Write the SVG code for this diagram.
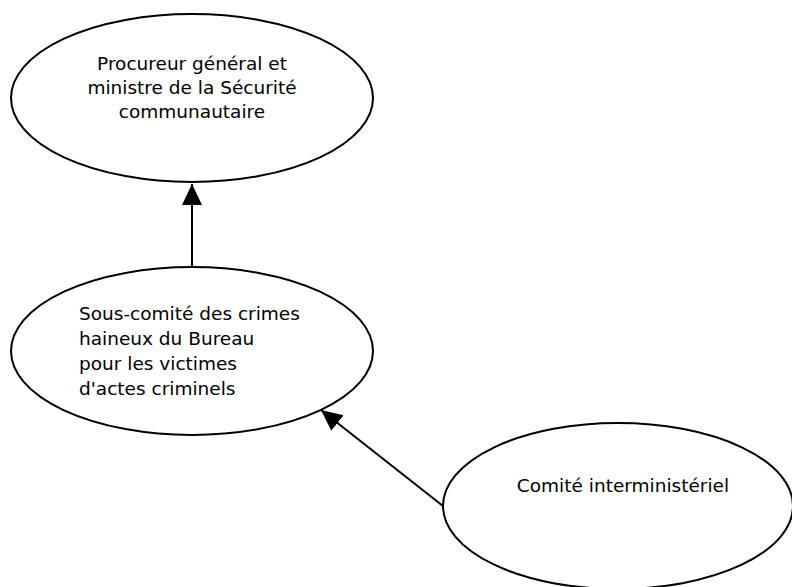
<svg xmlns="http://www.w3.org/2000/svg" width="792" height="587" viewBox="0 0 792 587">
<style>
.n{fill:#fff;stroke:#000;stroke-width:2}
.t{font-family:"DejaVu Sans",Verdana,sans-serif;font-size:18.5px;fill:#000}
.c{stroke:#000;stroke-width:2;fill:none;marker-end:url(#ah)}
</style>
<defs>
<marker id="ah" markerUnits="userSpaceOnUse" markerWidth="22" markerHeight="22" refX="21" refY="10" orient="auto" viewBox="0 0 22 20">
<path d="M0,0 L21,10 L0,20 Z" fill="#000"/>
</marker>
</defs>
<rect width="792" height="587" fill="#fff"/>
<g id="n1">
<ellipse class="n" cx="192" cy="98" rx="181" ry="84"/>
<text class="t" text-anchor="middle"><tspan x="192" y="70">Procureur général et</tspan><tspan x="192" y="94">ministre de la Sécurité</tspan><tspan x="192" y="118">communautaire</tspan></text>
</g>
<g id="n2">
<ellipse class="n" cx="192" cy="351" rx="181" ry="84"/>
<text class="t"><tspan x="79" y="320">Sous-comité des crimes</tspan><tspan x="79" y="345">haineux du Bureau</tspan><tspan x="79" y="370">pour les victimes</tspan><tspan x="79" y="395">d'actes criminels</tspan></text>
</g>
<g id="n3">
<ellipse class="n" cx="618" cy="506" rx="175" ry="83"/>
<text class="t" x="623" y="492" text-anchor="middle">Comité interministériel</text>
</g>
<g id="connectors">
<path class="c" d="M192,267 L192,184"/>
<path class="c" d="M443,506 L321,410"/>
</g>
</svg>
